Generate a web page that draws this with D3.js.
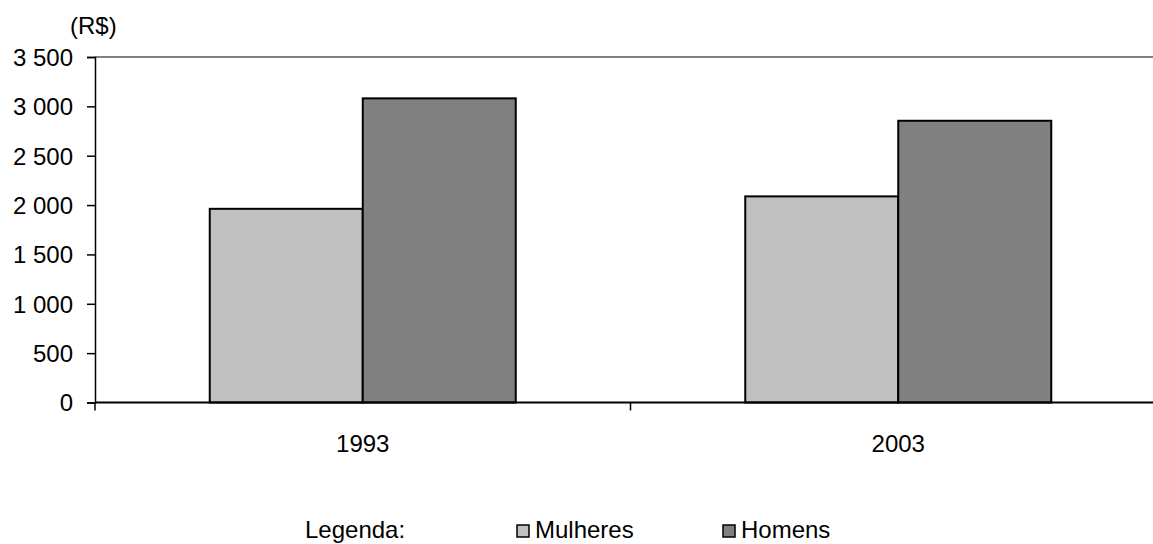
<!DOCTYPE html>
<html>
<head>
<meta charset="utf-8">
<script src="https://cdn.jsdelivr.net/npm/d3@7"></script>
<style>
  html, body { margin: 0; padding: 0; background: #fff; overflow: hidden; }
  text { font-family: "Liberation Sans", Arial, sans-serif; fill: #000; }
</style>
</head>
<body>
<svg id="chart" width="1153" height="544"></svg>
<script>
const categories = ["1993", "2003"];
const seriesNames = ["Mulheres", "Homens"];
const mulheres = [1962, 2088];
const homens = [3081, 2854];
const yTicks = [0, 500, 1000, 1500, 2000, 2500, 3000, 3500];
const colors = ["#C0C0C0", "#808080"];

(function () {
const svg = d3.select("#chart");
const plotLeft = 95, plotRight = 1166, plotTop = 57, plotBottom = 402.5;
const fs = 24;

const x0 = d3.scaleBand().domain(categories).range([plotLeft, plotRight]).padding(0);
const x1 = d3.scaleBand().domain(seriesNames).range([0, x0.bandwidth()]).paddingInner(0).paddingOuter(0.75);
const y = d3.scaleLinear().domain([0, 3500]).range([plotBottom, plotTop]);

const values = { "Mulheres": mulheres, "Homens": homens };

// plot area top border
svg.append("line").attr("x1", plotLeft).attr("x2", plotRight).attr("y1", plotTop).attr("y2", plotTop)
  .attr("stroke", "#808080").attr("stroke-width", 2);

// bars
seriesNames.forEach((s, si) => {
  svg.append("g").selectAll("rect").data(categories).join("rect")
    .attr("x", c => x0(c) + x1(s))
    .attr("y", (c, i) => y(values[s][i]))
    .attr("width", x1.bandwidth())
    .attr("height", (c, i) => y(0) - y(values[s][i]))
    .attr("fill", colors[si])
    .attr("stroke", "#000").attr("stroke-width", 2);
});

// y axis
const yAxis = d3.axisLeft(y).tickValues(yTicks).tickSizeOuter(0).tickSize(8).tickPadding(14)
  .tickFormat(d => d3.format(",")(d).replace(/,/g, " "));
const gy = svg.append("g").attr("transform", `translate(${plotLeft},0)`).call(yAxis);
gy.select(".domain").attr("stroke", "#000").attr("stroke-width", 1.5);
gy.selectAll(".tick line").attr("stroke", "#000").attr("stroke-width", 1.5);
gy.selectAll(".tick text").style("font-size", fs + "px").attr("dy", "0.35em");

// x axis
const gx = svg.append("g").attr("transform", `translate(0,${plotBottom})`);
gx.append("line").attr("x1", plotLeft).attr("x2", plotRight).attr("y1", 0).attr("y2", 0)
  .attr("stroke", "#000").attr("stroke-width", 2);
const boundaries = categories.map(c => x0(c)).concat([x0(categories[categories.length - 1]) + x0.bandwidth()]);
gx.selectAll("line.sep").data(boundaries).join("line").attr("class", "sep")
  .attr("x1", d => d).attr("x2", d => d).attr("y1", 0).attr("y2", 8)
  .attr("stroke", "#000").attr("stroke-width", 1.5);
gx.selectAll("text").data(categories).join("text")
  .attr("x", c => x0(c) + x0.bandwidth() / 2).attr("y", 49.5)
  .attr("text-anchor", "middle").style("font-size", fs + "px").text(c => c);

// unit label
svg.append("text").attr("x", 70).attr("y", 34).style("font-size", fs + "px").text("(R$)");

// legend
const ly = 538;
svg.append("text").attr("x", 305).attr("y", ly).style("font-size", fs + "px").text("Legenda:");
const legX = [517, 723];
seriesNames.forEach((s, i) => {
  svg.append("rect").attr("x", legX[i]).attr("y", 525).attr("width", 12).attr("height", 12)
    .attr("fill", colors[i]).attr("stroke", "#000").attr("stroke-width", 1.5);
  svg.append("text").attr("x", legX[i] + 18).attr("y", ly).style("font-size", fs + "px").text(s);
});
})();
</script>
</body>
</html>
